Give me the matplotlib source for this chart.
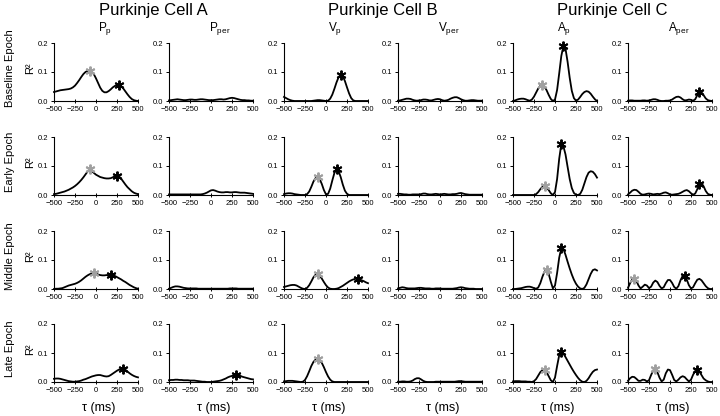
import numpy as np
import matplotlib
matplotlib.use('Agg')
import matplotlib.pyplot as plt

plt.rcParams['font.family'] = ['Liberation Sans', 'DejaVu Sans']
plt.rcParams['mathtext.fontset'] = 'custom'
plt.rcParams['mathtext.rm'] = 'Liberation Sans'
plt.rcParams['mathtext.it'] = 'Liberation Sans:italic'

# lag axis, ms (one value every 25 ms)
TAU = np.arange(-500, 501, 25)

CELLS = ['Purkinje Cell A', 'Purkinje Cell B', 'Purkinje Cell C']
PANELS = [r'$\mathregular{P_p}$', r'$\mathregular{P_{per}}$',
          r'$\mathregular{V_p}$', r'$\mathregular{V_{per}}$',
          r'$\mathregular{A_p}$', r'$\mathregular{A_{per}}$']
EPOCHS = ['Baseline Epoch', 'Early Epoch', 'Middle Epoch', 'Late Epoch']

# ---- Baseline epoch ----
base_pp = [0.031, 0.033, 0.035, 0.037, 0.038, 0.039, 0.040, 0.041, 0.043, 0.047, 0.053,
           0.062, 0.072, 0.083, 0.093, 0.100, 0.104, 0.105, 0.101, 0.092, 0.078, 0.062,
           0.046, 0.035, 0.030, 0.030, 0.034, 0.040, 0.047, 0.052, 0.055, 0.055, 0.051,
           0.043, 0.033, 0.023, 0.014, 0.007, 0.003, 0.001, 0.000]
base_pper = [0.002, 0.003, 0.004, 0.005, 0.006, 0.005, 0.004, 0.003, 0.003, 0.004, 0.005,
             0.005, 0.004, 0.004, 0.005, 0.006, 0.006, 0.005, 0.004, 0.003, 0.003, 0.003,
             0.004, 0.005, 0.006, 0.006, 0.005, 0.006, 0.008, 0.010, 0.011, 0.010, 0.008,
             0.006, 0.004, 0.003, 0.003, 0.002, 0.002, 0.001, 0.001]
base_vp = [0.014, 0.010, 0.006, 0.003, 0.001, 0.0, 0.0, 0.0, 0.0, 0.0, 0.0,
           0.0, 0.0, 0.0, 0.001, 0.002, 0.003, 0.003, 0.002, 0.001, 0.0, 0.001,
           0.008, 0.022, 0.042, 0.064, 0.082, 0.090, 0.085, 0.069, 0.047, 0.026, 0.010,
           0.002, 0.0, 0.0, 0.0, 0.0, 0.0, 0.0, 0.0]
base_vper = [0.001, 0.002, 0.004, 0.006, 0.008, 0.008, 0.007, 0.004, 0.002, 0.001, 0.002,
             0.003, 0.005, 0.005, 0.004, 0.002, 0.002, 0.004, 0.006, 0.007, 0.006, 0.003,
             0.001, 0.002, 0.004, 0.008, 0.011, 0.013, 0.013, 0.010, 0.006, 0.003, 0.001,
             0.001, 0.002, 0.003, 0.003, 0.002, 0.001, 0.001, 0.001]
base_ap = [0.0, 0.002, 0.005, 0.007, 0.008, 0.008, 0.006, 0.003, 0.001, 0.005, 0.015,
           0.029, 0.043, 0.052, 0.055, 0.050, 0.037, 0.021, 0.007, 0.0, 0.005, 0.038,
           0.095, 0.155, 0.190, 0.180, 0.135, 0.080, 0.035, 0.010, 0.001, 0.005, 0.014,
           0.024, 0.031, 0.034, 0.032, 0.025, 0.015, 0.006, 0.0]
base_aper = [0.001, 0.002, 0.002, 0.001, 0.001, 0.001, 0.001, 0.002, 0.002, 0.001, 0.002,
             0.004, 0.006, 0.006, 0.004, 0.001, 0.0, 0.0, 0.001, 0.001, 0.002, 0.005,
             0.010, 0.014, 0.015, 0.012, 0.006, 0.002, 0.003, 0.005, 0.004, 0.001, 0.006,
             0.020, 0.031, 0.030, 0.020, 0.009, 0.003, 0.001, 0.0]

# ---- Early epoch ----
early_pp = [0.003, 0.004, 0.006, 0.008, 0.010, 0.012, 0.015, 0.018, 0.022, 0.026, 0.031,
            0.037, 0.044, 0.052, 0.061, 0.071, 0.081, 0.089, 0.083, 0.076, 0.070, 0.066,
            0.062, 0.060, 0.058, 0.057, 0.057, 0.058, 0.061, 0.065, 0.067, 0.064, 0.056,
            0.046, 0.036, 0.027, 0.020, 0.013, 0.008, 0.005, 0.003]
early_pper = [0.002, 0.002, 0.002, 0.002, 0.002, 0.002, 0.002, 0.002, 0.002, 0.002, 0.002,
              0.002, 0.002, 0.002, 0.002, 0.002, 0.003, 0.005, 0.008, 0.012, 0.016, 0.017,
              0.015, 0.012, 0.010, 0.009, 0.009, 0.010, 0.010, 0.009, 0.009, 0.010, 0.010,
              0.009, 0.008, 0.008, 0.008, 0.007, 0.006, 0.005, 0.004]
early_vp = [0.003, 0.005, 0.006, 0.006, 0.005, 0.003, 0.002, 0.001, 0.0, 0.0, 0.0,
            0.003, 0.012, 0.028, 0.046, 0.058, 0.062, 0.055, 0.038, 0.017, 0.002, 0.004,
            0.022, 0.050, 0.076, 0.088, 0.082, 0.062, 0.036, 0.015, 0.004, 0.0, 0.0,
            0.0, 0.0, 0.0, 0.0, 0.0, 0.0, 0.0, 0.0]
early_vper = [0.004, 0.004, 0.003, 0.002, 0.002, 0.001, 0.001, 0.002, 0.002, 0.002, 0.002,
              0.003, 0.005, 0.005, 0.003, 0.002, 0.002, 0.003, 0.004, 0.003, 0.002, 0.003,
              0.004, 0.003, 0.002, 0.002, 0.003, 0.003, 0.004, 0.006, 0.007, 0.005, 0.003,
              0.002, 0.001, 0.001, 0.001, 0.001, 0.001, 0.001, 0.001]
early_ap = [0.0, 0.0, 0.0, 0.0, 0.0, 0.0, 0.0, 0.0, 0.0, 0.0, 0.0,
            0.003, 0.010, 0.020, 0.028, 0.031, 0.027, 0.017, 0.006, 0.0, 0.010, 0.055,
            0.125, 0.175, 0.168, 0.140, 0.097, 0.055, 0.024, 0.007, 0.001, 0.0, 0.004,
            0.018, 0.040, 0.062, 0.077, 0.082, 0.080, 0.072, 0.060]
early_aper = [0.002, 0.008, 0.015, 0.018, 0.017, 0.011, 0.004, 0.001, 0.002, 0.004, 0.005,
              0.004, 0.002, 0.003, 0.004, 0.003, 0.005, 0.008, 0.009, 0.006, 0.002, 0.001,
              0.002, 0.003, 0.004, 0.007, 0.011, 0.015, 0.017, 0.013, 0.006, 0.001, 0.005,
              0.020, 0.038, 0.041, 0.030, 0.014, 0.004, 0.001, 0.0]

# ---- Middle epoch ----
middle_pp = [0.000, 0.001, 0.001, 0.002, 0.003, 0.006, 0.009, 0.012, 0.014, 0.016, 0.018,
             0.021, 0.025, 0.030, 0.036, 0.042, 0.047, 0.051, 0.053, 0.054, 0.053, 0.050,
             0.048, 0.047, 0.047, 0.048, 0.048, 0.048, 0.047, 0.045, 0.041, 0.037, 0.033,
             0.028, 0.024, 0.019, 0.014, 0.010, 0.006, 0.003, 0.001]
middle_pper = [0.001, 0.004, 0.007, 0.009, 0.009, 0.008, 0.006, 0.004, 0.003, 0.002, 0.002,
               0.002, 0.002, 0.002, 0.001, 0.001, 0.001, 0.001, 0.001, 0.001, 0.001, 0.001,
               0.001, 0.001, 0.001, 0.001, 0.001, 0.001, 0.001, 0.002, 0.002, 0.002, 0.002,
               0.001, 0.001, 0.001, 0.001, 0.001, 0.001, 0.001, 0.001]
middle_vp = [0.007, 0.009, 0.011, 0.013, 0.014, 0.014, 0.012, 0.008, 0.004, 0.001, 0.0,
             0.004, 0.013, 0.026, 0.040, 0.049, 0.051, 0.046, 0.036, 0.024, 0.013, 0.005,
             0.001, 0.0, 0.0, 0.001, 0.003, 0.007, 0.011, 0.016, 0.021, 0.026, 0.030,
             0.033, 0.035, 0.035, 0.033, 0.030, 0.027, 0.023, 0.020]
middle_vper = [0.002, 0.004, 0.006, 0.005, 0.003, 0.002, 0.002, 0.002, 0.002, 0.003, 0.004,
               0.004, 0.003, 0.002, 0.002, 0.002, 0.001, 0.001, 0.002, 0.002, 0.002, 0.001,
               0.001, 0.001, 0.001, 0.001, 0.001, 0.002, 0.003, 0.005, 0.006, 0.005, 0.003,
               0.002, 0.001, 0.001, 0.001, 0.0, 0.0, 0.0, 0.0]
middle_ap = [0.0, 0.0, 0.001, 0.002, 0.003, 0.005, 0.007, 0.008, 0.008, 0.006, 0.003,
             0.001, 0.005, 0.020, 0.042, 0.060, 0.066, 0.052, 0.025, 0.002, 0.012, 0.055,
             0.108, 0.141, 0.138, 0.118, 0.094, 0.071, 0.050, 0.032, 0.018, 0.008, 0.002,
             0.0, 0.004, 0.016, 0.034, 0.052, 0.065, 0.068, 0.064]
middle_aper = [0.004, 0.020, 0.033, 0.036, 0.028, 0.012, 0.002, 0.008, 0.015, 0.012, 0.003,
               0.008, 0.022, 0.029, 0.024, 0.011, 0.002, 0.006, 0.020, 0.031, 0.031, 0.021,
               0.007, 0.001, 0.010, 0.030, 0.045, 0.046, 0.032, 0.013, 0.002, 0.006, 0.020,
               0.032, 0.035, 0.030, 0.020, 0.010, 0.003, 0.0, 0.0]

# ---- Late epoch ----
late_pp = [0.011, 0.012, 0.012, 0.011, 0.009, 0.007, 0.005, 0.003, 0.002, 0.001, 0.001,
           0.002, 0.003, 0.005, 0.008, 0.010, 0.013, 0.016, 0.019, 0.021, 0.023, 0.024,
           0.024, 0.022, 0.020, 0.019, 0.020, 0.024, 0.029, 0.034, 0.039, 0.043, 0.045,
           0.045, 0.042, 0.036, 0.030, 0.025, 0.021, 0.018, 0.016]
late_pper = [0.006, 0.007, 0.007, 0.008, 0.008, 0.007, 0.007, 0.006, 0.006, 0.006, 0.005,
             0.005, 0.005, 0.004, 0.003, 0.002, 0.001, 0.001, 0.0, 0.0, 0.0, 0.001,
             0.002, 0.003, 0.004, 0.006, 0.009, 0.012, 0.016, 0.019, 0.021, 0.023, 0.024,
             0.023, 0.021, 0.018, 0.016, 0.014, 0.012, 0.010, 0.009]
late_vp = [0.002, 0.003, 0.004, 0.004, 0.004, 0.003, 0.002, 0.001, 0.0, 0.001, 0.007,
           0.020, 0.037, 0.055, 0.069, 0.077, 0.079, 0.076, 0.066, 0.051, 0.034, 0.019,
           0.008, 0.002, 0.0, 0.0, 0.0, 0.0, 0.0, 0.0, 0.0, 0.0, 0.0,
           0.0, 0.0, 0.0, 0.0, 0.0, 0.0, 0.0, 0.0]
late_vper = [0.001, 0.001, 0.002, 0.002, 0.001, 0.001, 0.002, 0.005, 0.010, 0.013, 0.013,
             0.009, 0.004, 0.001, 0.0, 0.0, 0.0, 0.0, 0.001, 0.001, 0.001, 0.001,
             0.001, 0.001, 0.001, 0.001, 0.001, 0.001, 0.002, 0.003, 0.003, 0.002, 0.001,
             0.001, 0.001, 0.001, 0.001, 0.001, 0.001, 0.001, 0.001]
late_ap = [0.002, 0.003, 0.003, 0.003, 0.002, 0.002, 0.002, 0.001, 0.001, 0.0, 0.003,
           0.010, 0.022, 0.034, 0.041, 0.042, 0.034, 0.020, 0.006, 0.0, 0.015, 0.055,
           0.092, 0.104, 0.098, 0.086, 0.073, 0.060, 0.047, 0.035, 0.024, 0.014, 0.006,
           0.001, 0.0, 0.004, 0.013, 0.025, 0.035, 0.041, 0.043]
late_aper = [0.004, 0.013, 0.018, 0.017, 0.011, 0.004, 0.004, 0.008, 0.007, 0.002, 0.006,
             0.024, 0.040, 0.045, 0.034, 0.015, 0.002, 0.008, 0.030, 0.043, 0.041, 0.025,
             0.007, 0.002, 0.008, 0.016, 0.020, 0.017, 0.009, 0.002, 0.008, 0.025, 0.038,
             0.042, 0.036, 0.024, 0.012, 0.006, 0.002, 0.0, 0.0]

CURVES = [
    [base_pp, base_pper, base_vp, base_vper, base_ap, base_aper],
    [early_pp, early_pper, early_vp, early_vper, early_ap, early_aper],
    [middle_pp, middle_pper, middle_vp, middle_vper, middle_ap, middle_aper],
    [late_pp, late_pper, late_vp, late_vper, late_ap, late_aper],
]

# lag (ms) of the marked peaks, None where no marker
gray_star = [
    [-75, None, None, None, -150, None],
    [-75, None, -100, None, -125, None],
    [-25, None, -100, None, -100, -425],
    [None, None, -100, None, -125, -175],
]
black_star = [
    [275, None, 175, None, 100, 350],
    [250, None, 125, None, 75, 350],
    [175, None, 375, None, 75, 175],
    [325, 300, None, None, 75, 325],
]

W, H = 720, 416
COL_LEFT = [54, 169, 284, 398, 513, 628]
ROW_TOP = [43, 137, 231, 324]
AX_W, AX_H = 84, 58


def add_star(ax, curve, tau, color):
    if tau is None:
        return
    i = int(np.where(TAU == tau)[0][0])
    ax.plot(TAU[i], curve[i], marker=(6, 2, 0), ms=7, mew=1.4,
            color=color, zorder=5, clip_on=False)


fig = plt.figure(figsize=(W / 100, H / 100), dpi=100)

for r in range(4):
    for c in range(6):
        left, top = COL_LEFT[c], ROW_TOP[r]
        ax = fig.add_axes([left / W, 1 - (top + AX_H) / H, AX_W / W, AX_H / H])
        curve = CURVES[r][c]
        assert len(curve) == len(TAU)
        ax.plot(TAU, curve, color='black', lw=1.3, clip_on=False)
        add_star(ax, curve, gray_star[r][c], '#a0a0a0')
        add_star(ax, curve, black_star[r][c], 'black')

        ax.set_xlim(-500, 500)
        ax.set_ylim(0, 0.2)
        ax.set_xticks([-500, -250, 0, 250, 500])
        ax.set_yticks([0, 0.1, 0.2])
        ax.set_yticklabels(['0.0', '0.1', '0.2'])
        for s in ['top', 'right']:
            ax.spines[s].set_visible(False)
        for s in ['left', 'bottom']:
            ax.spines[s].set_linewidth(0.8)
        ax.tick_params(axis='y', labelsize=5.5, length=2.5, width=0.7, pad=1.5)
        ax.tick_params(axis='x', labelsize=5.5, length=2.5, width=0.7, pad=2,
                       direction='inout')

        if r == 0:
            fig.text((left + AX_W / 2 + 9) / W, 1 - 29 / H, PANELS[c],
                     ha='center', va='center', fontsize=8.5)
        if r == 3:
            fig.text((left + AX_W / 2 + 3) / W, 1 - 408 / H, 'τ (ms)',
                     ha='center', va='center', fontsize=9)

    mid = ROW_TOP[r] + AX_H / 2 - 4
    fig.text(10 / W, 1 - mid / H, EPOCHS[r], rotation=90,
             ha='center', va='center', fontsize=8)
    fig.text(30 / W, 1 - mid / H, 'R²', rotation=90,
             ha='center', va='center', fontsize=8)

for k, name in enumerate(CELLS):
    x0 = COL_LEFT[2 * k]
    x1 = COL_LEFT[2 * k + 1] + AX_W
    fig.text((x0 + x1) / 2 / W, 1 - 10 / H, name,
             ha='center', va='center', fontsize=12)

plt.savefig('out.png', dpi=100)
plt.close()
